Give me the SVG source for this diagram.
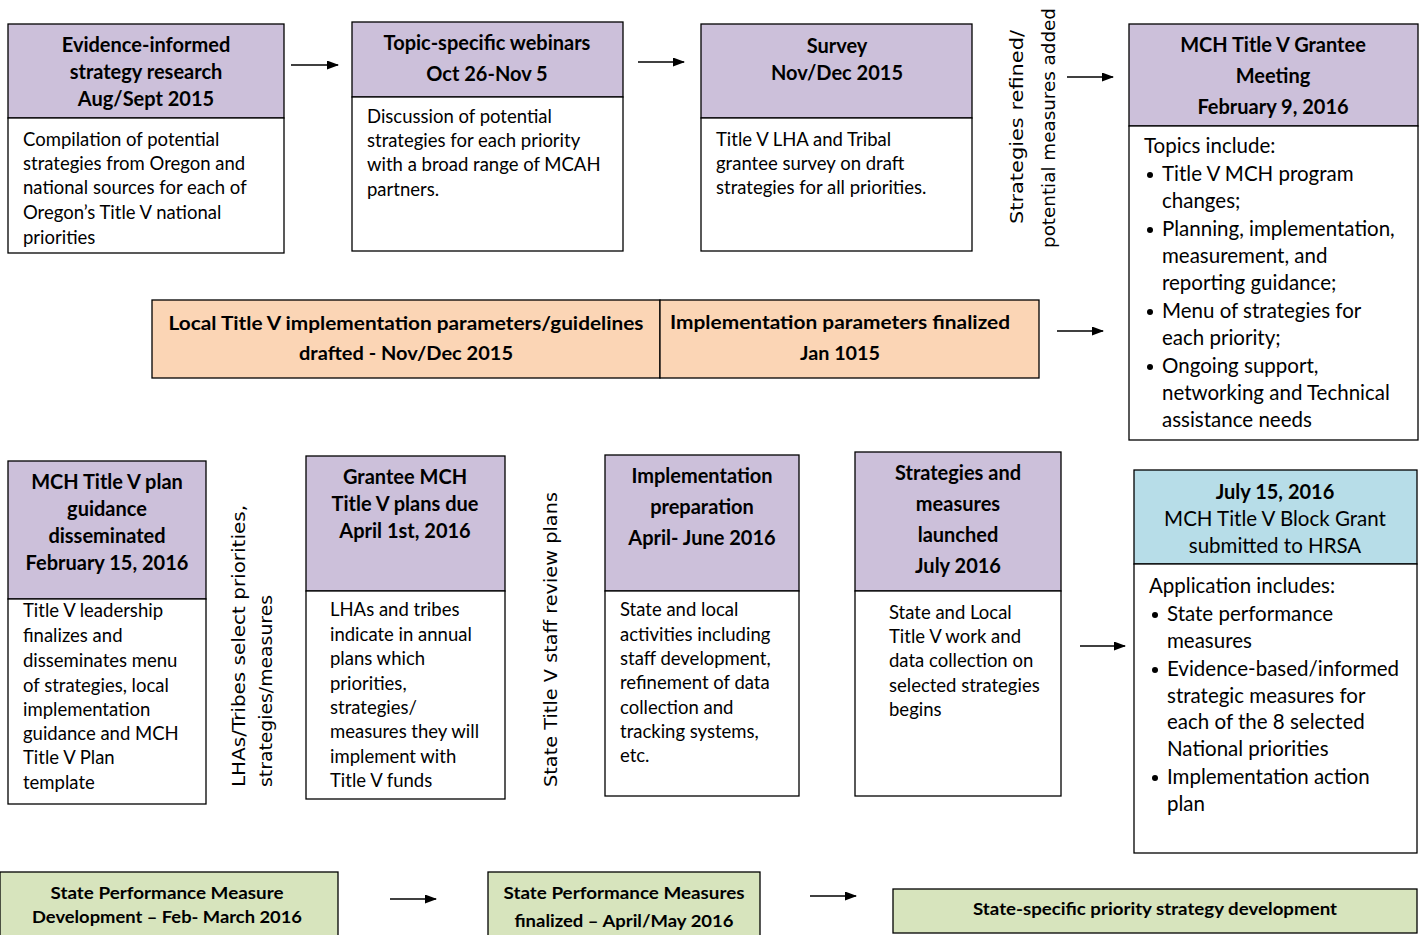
<svg xmlns="http://www.w3.org/2000/svg" width="1426" height="935" viewBox="0 0 1426 935">
<defs>
<marker id="ah" markerWidth="12" markerHeight="10" refX="11" refY="4.5" orient="auto" markerUnits="userSpaceOnUse">
<path d="M0,0 L12,4.5 L0,9 Z" fill="#000"/>
</marker>
<style>
.box{stroke:#000;stroke-width:1.3}
.pur{fill:#ccc0da}
.wht{fill:#fff}
.org{fill:#fbd5b5}
.grn{fill:#d7e4bd}
.blu{fill:#b7dde8}
text{font-family:Lato,"Open Sans","Liberation Sans",sans-serif;fill:#000}
.h{font-size:20px;font-weight:bold;text-anchor:middle}
.b{font-size:18.5px}
.b2{font-size:20.5px}
.c{font-size:19px;font-weight:bold;text-anchor:middle}
.g{font-size:17px;font-weight:bold;text-anchor:middle}
.r{font-family:"DejaVu Sans",sans-serif;font-size:18px}
.arr{stroke:#000;stroke-width:1.6;fill:none;marker-end:url(#ah)}
</style>
</defs>
<rect width="1426" height="935" fill="#fff"/>

<g id="n1">
<rect class="box pur" x="8" y="24" width="276" height="94"/>
<rect class="box wht" x="8" y="118" width="276" height="135"/>
<text class="h" x="146" y="52">Evidence-informed</text>
<text class="h" x="146" y="79">strategy research</text>
<text class="h" x="146" y="106">Aug/Sept 2015</text>
<text class="b" x="23" y="146">Compilation of potential</text>
<text class="b" x="23" y="170">strategies from Oregon and</text>
<text class="b" x="23" y="194">national sources for each of</text>
<text class="b" x="23" y="219">Oregon’s Title V national</text>
<text class="b" x="23" y="244">priorities</text>
</g>

<g id="n2">
<rect class="box pur" x="352" y="22" width="271" height="75"/>
<rect class="box wht" x="352" y="97" width="271" height="154"/>
<text class="h" x="487" y="50">Topic-specific webinars</text>
<text class="h" x="487" y="81">Oct 26-Nov 5</text>
<text class="b" x="367" y="123">Discussion of potential</text>
<text class="b" x="367" y="147">strategies for each priority</text>
<text class="b" x="367" y="171">with a broad range of MCAH</text>
<text class="b" x="367" y="196">partners.</text>
</g>

<g id="n3">
<rect class="box pur" x="701" y="24" width="271" height="94"/>
<rect class="box wht" x="701" y="118" width="271" height="133"/>
<text class="h" x="837" y="53">Survey</text>
<text class="h" x="837" y="80">Nov/Dec 2015</text>
<text class="b" x="716" y="146">Title V LHA and Tribal</text>
<text class="b" x="716" y="170">grantee survey on draft</text>
<text class="b" x="716" y="194">strategies for all priorities.</text>
</g>

<g id="lbl1">
<text class="r" transform="translate(1023,224) rotate(-90)" textLength="194" lengthAdjust="spacingAndGlyphs">Strategies  refined/</text>
<text class="r" transform="translate(1055,248) rotate(-90)" textLength="240" lengthAdjust="spacingAndGlyphs">potential measures added</text>
</g>

<g id="n4">
<rect class="box pur" x="1129" y="24" width="289" height="102"/>
<rect class="box wht" x="1129" y="126" width="289" height="314"/>
<text class="h" x="1273" y="52">MCH Title V Grantee</text>
<text class="h" x="1273" y="83">Meeting</text>
<text class="h" x="1273" y="114">February 9, 2016</text>
<text class="b2" x="1144" y="153">Topics include:</text>
<circle cx="1150" cy="175" r="3"/>
<text class="b2" x="1162" y="181">Title V MCH program</text>
<text class="b2" x="1162" y="208">changes;</text>
<circle cx="1150" cy="230" r="3"/>
<text class="b2" x="1162" y="236">Planning, implementation,</text>
<text class="b2" x="1162" y="263">measurement, and</text>
<text class="b2" x="1162" y="290">reporting guidance;</text>
<circle cx="1150" cy="312" r="3"/>
<text class="b2" x="1162" y="318">Menu of strategies for</text>
<text class="b2" x="1162" y="345">each priority;</text>
<circle cx="1150" cy="367" r="3"/>
<text class="b2" x="1162" y="373">Ongoing support,</text>
<text class="b2" x="1162" y="400">networking and Technical</text>
<text class="b2" x="1162" y="427">assistance needs</text>
</g>

<g id="n5">
<rect class="box org" x="152" y="300" width="508" height="78"/>
<text class="c" x="406" y="330" textLength="475" lengthAdjust="spacingAndGlyphs">Local Title V implementation parameters/guidelines</text>
<text class="c" x="406" y="360" textLength="214" lengthAdjust="spacingAndGlyphs">drafted - Nov/Dec 2015</text>
</g>
<g id="n6">
<rect class="box org" x="660" y="300" width="379" height="78"/>
<text class="c" x="840" y="329" textLength="340" lengthAdjust="spacingAndGlyphs">Implementation parameters finalized</text>
<text class="c" x="840" y="360" textLength="80" lengthAdjust="spacingAndGlyphs">Jan 1015</text>
</g>

<g id="n7">
<rect class="box pur" x="8" y="461" width="198" height="138"/>
<rect class="box wht" x="8" y="599" width="198" height="205"/>
<text class="h" x="107" y="489">MCH Title V plan</text>
<text class="h" x="107" y="516">guidance</text>
<text class="h" x="107" y="543">disseminated</text>
<text class="h" x="107" y="570">February 15, 2016</text>
<text class="b" x="23" y="617">Title V leadership</text>
<text class="b" x="23" y="642">finalizes and</text>
<text class="b" x="23" y="667">disseminates menu</text>
<text class="b" x="23" y="692">of strategies, local</text>
<text class="b" x="23" y="716">implementation</text>
<text class="b" x="23" y="740">guidance and MCH</text>
<text class="b" x="23" y="764">Title V Plan</text>
<text class="b" x="23" y="789">template</text>
</g>

<g id="lbl2">
<text class="r" transform="translate(245,787) rotate(-90)" textLength="282" lengthAdjust="spacingAndGlyphs">LHAs/Tribes select priorities,</text>
<text class="r" transform="translate(272,787) rotate(-90)" textLength="192" lengthAdjust="spacingAndGlyphs">strategies/measures</text>
</g>

<g id="n8">
<rect class="box pur" x="306" y="456" width="199" height="135"/>
<rect class="box wht" x="306" y="591" width="199" height="208"/>
<text class="h" x="405" y="484">Grantee MCH</text>
<text class="h" x="405" y="511">Title V plans due</text>
<text class="h" x="405" y="538">April 1st, 2016</text>
<text class="b" x="330" y="616">LHAs and tribes</text>
<text class="b" x="330" y="641">indicate in annual</text>
<text class="b" x="330" y="665">plans which</text>
<text class="b" x="330" y="690">priorities,</text>
<text class="b" x="330" y="714">strategies/</text>
<text class="b" x="330" y="738">measures they will</text>
<text class="b" x="330" y="763">implement with</text>
<text class="b" x="330" y="787">Title V funds</text>
</g>

<g id="lbl3">
<text class="r" transform="translate(557,787) rotate(-90)" textLength="295" lengthAdjust="spacingAndGlyphs">State Title V staff review plans</text>
</g>

<g id="n9">
<rect class="box pur" x="605" y="455" width="194" height="136"/>
<rect class="box wht" x="605" y="591" width="194" height="205"/>
<text class="h" x="702" y="483">Implementation</text>
<text class="h" x="702" y="514">preparation</text>
<text class="h" x="702" y="545">April- June 2016</text>
<text class="b" x="620" y="616">State and local</text>
<text class="b" x="620" y="641">activities including</text>
<text class="b" x="620" y="665">staff development,</text>
<text class="b" x="620" y="689">refinement of data</text>
<text class="b" x="620" y="714">collection and</text>
<text class="b" x="620" y="738">tracking systems,</text>
<text class="b" x="620" y="762">etc.</text>
</g>

<g id="n10">
<rect class="box pur" x="855" y="452" width="206" height="139"/>
<rect class="box wht" x="855" y="591" width="206" height="205"/>
<text class="h" x="958" y="480">Strategies and</text>
<text class="h" x="958" y="511">measures</text>
<text class="h" x="958" y="542">launched</text>
<text class="h" x="958" y="573">July 2016</text>
<text class="b" x="889" y="619">State and Local</text>
<text class="b" x="889" y="643">Title V work and</text>
<text class="b" x="889" y="667">data collection on</text>
<text class="b" x="889" y="692">selected strategies</text>
<text class="b" x="889" y="716">begins</text>
</g>

<g id="n11">
<rect class="box blu" x="1134" y="470" width="283" height="94"/>
<rect class="box wht" x="1134" y="564" width="283" height="289"/>
<text class="h" x="1275" y="499">July 15, 2016</text>
<text class="b2" x="1275" y="526" text-anchor="middle">MCH Title V Block Grant</text>
<text class="b2" x="1275" y="553" text-anchor="middle">submitted to HRSA</text>
<text class="b2" x="1149" y="593">Application includes:</text>
<circle cx="1155" cy="615" r="3"/>
<text class="b2" x="1167" y="621">State performance</text>
<text class="b2" x="1167" y="648">measures</text>
<circle cx="1155" cy="670" r="3"/>
<text class="b2" x="1167" y="676">Evidence-based/informed</text>
<text class="b2" x="1167" y="703">strategic measures for</text>
<text class="b2" x="1167" y="729">each of the 8 selected</text>
<text class="b2" x="1167" y="756">National priorities</text>
<circle cx="1155" cy="778" r="3"/>
<text class="b2" x="1167" y="784">Implementation action</text>
<text class="b2" x="1167" y="811">plan</text>
</g>

<g id="n12">
<rect class="box grn" x="0" y="872" width="338" height="70"/>
<text class="g" x="167" y="899" textLength="233" lengthAdjust="spacingAndGlyphs">State Performance Measure</text>
<text class="g" x="167" y="923" textLength="270" lengthAdjust="spacingAndGlyphs">Development – Feb- March 2016</text>
</g>
<g id="n13">
<rect class="box grn" x="488" y="872" width="272" height="70"/>
<text class="g" x="624" y="899" textLength="241" lengthAdjust="spacingAndGlyphs">State Performance Measures</text>
<text class="g" x="624" y="927" textLength="219" lengthAdjust="spacingAndGlyphs">finalized – April/May 2016</text>
</g>
<g id="n14">
<rect class="box grn" x="893" y="889" width="524" height="44"/>
<text class="g" x="1155" y="915" textLength="364" lengthAdjust="spacingAndGlyphs">State-specific priority strategy development</text>
</g>

<g id="connectors">
<line class="arr" x1="291" y1="65" x2="338" y2="65"/>
<line class="arr" x1="638" y1="62" x2="684" y2="62"/>
<line class="arr" x1="1067" y1="77" x2="1113" y2="77"/>
<line class="arr" x1="1057" y1="331" x2="1103" y2="331"/>
<line class="arr" x1="1080" y1="646" x2="1125" y2="646"/>
<line class="arr" x1="390" y1="899" x2="436" y2="899"/>
<line class="arr" x1="810" y1="896" x2="856" y2="896"/>
</g>
</svg>
